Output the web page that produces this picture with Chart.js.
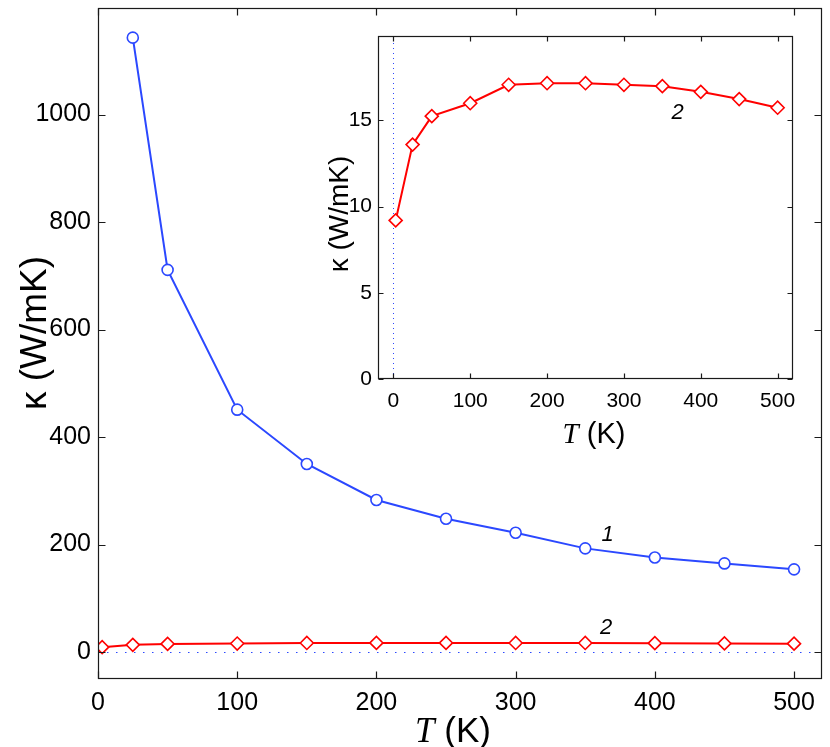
<!DOCTYPE html>
<html>
<head>
<meta charset="utf-8">
<script src="https://cdn.jsdelivr.net/npm/chart.js@4.4.1/dist/chart.umd.min.js"></script>
<style>
html, body { margin: 0; padding: 0; background: #fff; }
#wrap { position: relative; width: 830px; height: 747px; }
#main { position: absolute; left: 0; top: 0; }
#inset { position: absolute; left: 300px; top: 20px; }
</style>
</head>
<body>
<div id="wrap">
  <canvas id="main" width="830" height="747"></canvas>
  <canvas id="inset" width="520" height="440"></canvas>
</div>
<script>
// curve 1 (blue circles) and curve 2 (red diamonds)
const temps1 = [25, 50, 100, 150, 200, 250, 300, 350, 400, 450, 500];
const kappa1 = [1143, 711, 451, 350, 283, 248, 222, 193, 176, 165, 154];
const temps2 = [3, 25, 50, 100, 150, 200, 250, 300, 350, 400, 450, 500];
const kappa2 = [9.2, 13.6, 15.25, 16.0, 17.07, 17.16, 17.16, 17.07, 16.99, 16.66, 16.24, 15.74];

const mainXTicks = [0, 100, 200, 300, 400, 500];
const mainYTicks = [0, 200, 400, 600, 800, 1000];
const insetXTicks = [0, 100, 200, 300, 400, 500];
const insetYTicks = [0, 5, 10, 15];

const BLUE = '#2b48ff';
const RED = '#ff0000';
const SANS = '"Liberation Sans", Arial, sans-serif';
const SERIF = '"Liberation Serif", "Times New Roman", serif';

const toPts = (xs, ys) => xs.map((x, i) => ({ x: x, y: ys[i] }));

function drawParts(c, parts, cx, y) {
  let w = 0;
  parts.forEach(p => { c.font = p.font; w += c.measureText(p.text).width; });
  let x = cx - w / 2;
  c.textAlign = 'left';
  parts.forEach(p => { c.font = p.font; c.fillText(p.text, x, y); x += c.measureText(p.text).width; });
}

function makePlugin(cfg) {
  return {
    id: 'frame',
    beforeDraw(chart) {
      if (!cfg.fill) return;
      const a = chart.chartArea, c = chart.ctx;
      c.save();
      c.fillStyle = '#fff';
      c.fillRect(a.left, a.top, a.right - a.left, a.bottom - a.top);
      c.restore();
    },
    beforeDatasetsDraw(chart) {
      const a = chart.chartArea, c = chart.ctx;
      const sx = chart.scales.x, sy = chart.scales.y;
      c.save();
      c.strokeStyle = BLUE;
      c.lineWidth = 1;
      c.setLineDash(cfg.dash);
      c.beginPath();
      if (cfg.zero === 'y') {
        const y = Math.round(sy.getPixelForValue(0)) + 0.5;
        c.moveTo(a.left, y); c.lineTo(a.right, y);
      } else {
        const x = Math.round(sx.getPixelForValue(0)) + 0.5;
        c.moveTo(x, a.bottom); c.lineTo(x, a.top);
      }
      c.stroke();
      c.restore();
    },
    afterDraw(chart) {
      const a = chart.chartArea, c = chart.ctx;
      const sx = chart.scales.x, sy = chart.scales.y;
      const L = Math.round(a.left) + 0.5, R = Math.round(a.right) - 0.5;
      const T = Math.round(a.top) + 0.5, B = Math.round(a.bottom) - 0.5;
      c.save();
      c.strokeStyle = '#1a1a1a';
      c.lineWidth = 1.2;
      c.strokeRect(L, T, R - L, B - T);
      c.beginPath();
      sx.ticks.forEach(t => {
        const x = Math.round(sx.getPixelForValue(t.value)) + 0.5;
        c.moveTo(x, B); c.lineTo(x, B - cfg.tick);
        c.moveTo(x, T); c.lineTo(x, T + cfg.tick);
      });
      sy.ticks.forEach(t => {
        const y = Math.round(sy.getPixelForValue(t.value)) + 0.5;
        c.moveTo(L, y); c.lineTo(L + cfg.tick, y);
        c.moveTo(R, y); c.lineTo(R - cfg.tick, y);
      });
      c.stroke();

      // axis titles
      c.fillStyle = '#000';
      c.textBaseline = 'alphabetic';
      drawParts(c, [
        { text: 'T', font: 'italic ' + cfg.xTitle.size + 'px ' + SERIF },
        { text: ' (K)', font: cfg.xTitle.size + 'px ' + SANS }
      ], cfg.xTitle.x, cfg.xTitle.y);

      c.save();
      c.translate(cfg.yTitle.x, cfg.yTitle.y);
      c.rotate(-Math.PI / 2);
      c.font = cfg.yTitle.size + 'px ' + SANS;
      c.textAlign = 'center';
      c.fillText('\u03BA (W/mK)', 0, 0);
      c.restore();

      // curve numbers
      c.font = 'italic 22px ' + SANS;
      c.textAlign = 'center';
      c.textBaseline = 'middle';
      cfg.notes.forEach(n => {
        c.fillText(n.text, sx.getPixelForValue(n.x), sy.getPixelForValue(n.y));
      });
      c.restore();
    }
  };
}

function noPad(s) {
  s.paddingTop = 0; s.paddingBottom = 0; s.paddingLeft = 0; s.paddingRight = 0;
}

function axes(xMin, xMax, yMin, yMax, xTicks, yTicks, fontSize, yWidth, xHeight, yPad, xPad) {
  return {
    x: {
      type: 'linear', min: xMin, max: xMax,
      grid: { display: false, drawTicks: false },
      border: { display: false },
      afterBuildTicks: s => { s.ticks = xTicks.map(v => ({ value: v })); },
      afterFit: s => { s.height = xHeight; noPad(s); },
      ticks: { padding: xPad, maxRotation: 0, color: '#000', font: { family: SANS, size: fontSize },
               callback: v => String(v) }
    },
    y: {
      type: 'linear', min: yMin, max: yMax,
      grid: { display: false, drawTicks: false },
      border: { display: false },
      afterBuildTicks: s => { s.ticks = yTicks.map(v => ({ value: v })); },
      afterFit: s => { s.width = yWidth; noPad(s); },
      ticks: { padding: yPad, color: '#000', font: { family: SANS, size: fontSize },
               callback: v => String(v) }
    }
  };
}

const blueSet = {
  data: toPts(temps1, kappa1), showLine: true,
  borderColor: BLUE, borderWidth: 2,
  pointStyle: 'circle', pointRadius: 5.5, pointBorderWidth: 1.6,
  pointBackgroundColor: '#fff', pointBorderColor: BLUE
};
const redSet = () => ({
  data: toPts(temps2, kappa2), showLine: true,
  borderColor: RED, borderWidth: 2,
  pointStyle: 'rectRot', pointRadius: 6.5, pointBorderWidth: 1.6,
  pointBackgroundColor: '#fff', pointBorderColor: RED
});

new Chart(document.getElementById('main'), {
  type: 'scatter',
  data: { datasets: [redSet(), blueSet] },
  options: {
    responsive: false, animation: false,
    layout: { padding: { left: 0, top: 6, right: 6, bottom: 0 } },
    plugins: { legend: { display: false }, tooltip: { enabled: false } },
    scales: axes(0, 520, -50, 1198, mainXTicks, mainYTicks, 25, 98, 68, 7, 9)
  },
  plugins: [makePlugin({
    fill: false, zero: 'y', dash: [1.5, 7.5], tick: 7,
    xTitle: { x: 453, y: 742, size: 35 },
    yTitle: { x: 46, y: 333, size: 37 },
    notes: [{ text: '1', x: 366, y: 218 }, { text: '2', x: 365, y: 45 }]
  })]
});

new Chart(document.getElementById('inset'), {
  type: 'scatter',
  data: { datasets: [redSet()] },
  options: {
    responsive: false, animation: false,
    layout: { padding: { left: 0, top: 16, right: 27, bottom: 0 } },
    plugins: { legend: { display: false }, tooltip: { enabled: false } },
    scales: axes(-20, 520, 0, 19.9, insetXTicks, insetYTicks, 21, 78, 81, 6, 10)
  },
  plugins: [makePlugin({
    fill: true, zero: 'x', dash: [1, 4], tick: 5,
    xTitle: { x: 294, y: 423, size: 29 },
    yTitle: { x: 48, y: 194, size: 28 },
    notes: [{ text: '2', x: 370, y: 15.46 }]
  })]
});
</script>
</body>
</html>
